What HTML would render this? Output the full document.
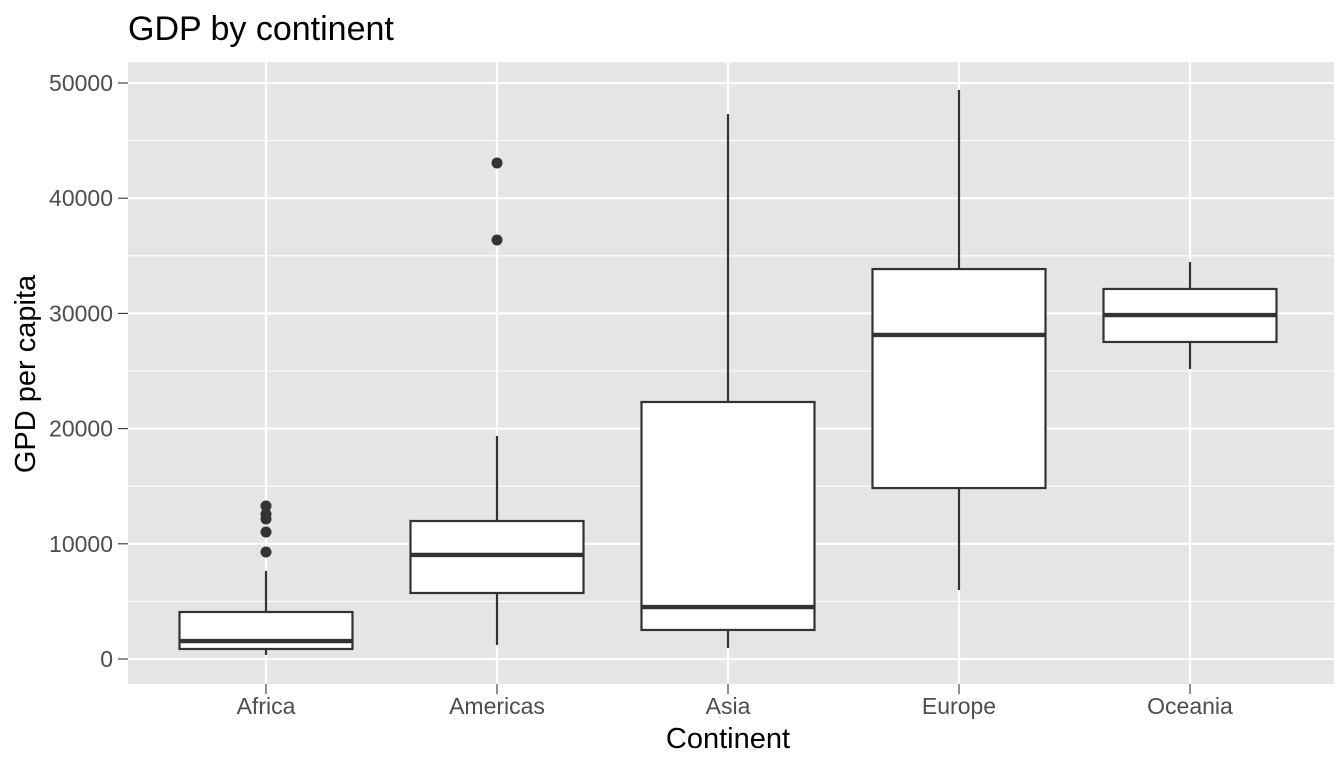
<!DOCTYPE html>
<html><head><meta charset="utf-8"><style>
body{margin:0;background:#fff;font-family:"Liberation Sans",Arial,sans-serif}
</style></head><body>
<svg id="chart" width="1344" height="768" xmlns="http://www.w3.org/2000/svg">
<text x="128" y="40" font-size="34" fill="#000" font-family="Liberation Sans, sans-serif">GDP by continent</text>
<rect x="128" y="62" width="1206" height="622" fill="#e5e5e5"/>
<g id="grid"></g><g id="marks"></g><g id="axes"></g>
<text x="728" y="748" font-size="29" text-anchor="middle" fill="#000">Continent</text>
<text transform="translate(35,374) rotate(-90)" font-size="29" text-anchor="middle" fill="#000">GPD per capita</text>
</svg>
<script>
const categories=["Africa","Americas","Asia","Europe","Oceania"];
const lowerWhisker=[350,1220,950,5990,25170];
const q1=[870,5730,2520,14840,27520];
const median=[1560,9030,4510,28130,29860];
const q3=[4080,11980,22310,33850,32120];
const upperWhisker=[7640,19360,47310,49390,34460];
const outliers=[[13280,12590,12150,11020,9290],[43060,36370],[],[],[]];
const yTicks=[0,10000,20000,30000,40000,50000];
const yMinor=[5000,15000,25000,35000,45000];
const NS="http://www.w3.org/2000/svg";
const y=v=>659-v*0.01152;
const x=i=>266+i*231;
const bw=173;
function mk(tag,attrs,parent){const e=document.createElementNS(NS,tag);for(const k in attrs)e.setAttribute(k,attrs[k]);parent.appendChild(e);return e;}
const grid=document.getElementById('grid'),marks=document.getElementById('marks'),axes=document.getElementById('axes');
yMinor.forEach(v=>{const l=mk('line',{x1:128,x2:1334,y1:y(v),y2:y(v),stroke:'#fff','stroke-width':1.1},grid);

});
yTicks.forEach(v=>{const l=mk('line',{x1:128,x2:1334,y1:y(v),y2:y(v),stroke:'#fff','stroke-width':2.2},grid);


const t=mk('text',{x:113,y:y(v)+8,'font-size':23,'text-anchor':'end',fill:'#4d4d4d'},axes);t.textContent=v;


const tk=mk('line',{x1:118,x2:128,y1:y(v),y2:y(v),stroke:'#333','stroke-width':1.1},axes);

});
categories.forEach((c,i)=>{const cx=x(i);
const gl=mk('line',{x1:cx,x2:cx,y1:62,y2:684,stroke:'#fff','stroke-width':2.2},grid);


const g=mk('g',{},marks);


mk('line',{x1:cx,x2:cx,y1:y(upperWhisker[i]),y2:y(q3[i]),stroke:'#333','stroke-width':2.2},g);
mk('line',{x1:cx,x2:cx,y1:y(q1[i]),y2:y(lowerWhisker[i]),stroke:'#333','stroke-width':2.2},g);
mk('rect',{x:cx-bw/2,y:y(q3[i]),width:bw,height:y(q1[i])-y(q3[i]),fill:'#fff',stroke:'#333','stroke-width':2.2},g);
mk('line',{x1:cx-bw/2,x2:cx+bw/2,y1:y(median[i]),y2:y(median[i]),stroke:'#333','stroke-width':4.4},g);
outliers[i].forEach(v=>{const p=mk('circle',{cx:cx,cy:y(v),r:5.5,fill:'#333'},g);

});
const tk=mk('line',{x1:cx,x2:cx,y1:684,y2:694,stroke:'#333','stroke-width':1.1},axes);


const t=mk('text',{x:cx,y:714,'font-size':23,'text-anchor':'middle',fill:'#4d4d4d'},axes);t.textContent=c;

});
</script>
</body></html>
